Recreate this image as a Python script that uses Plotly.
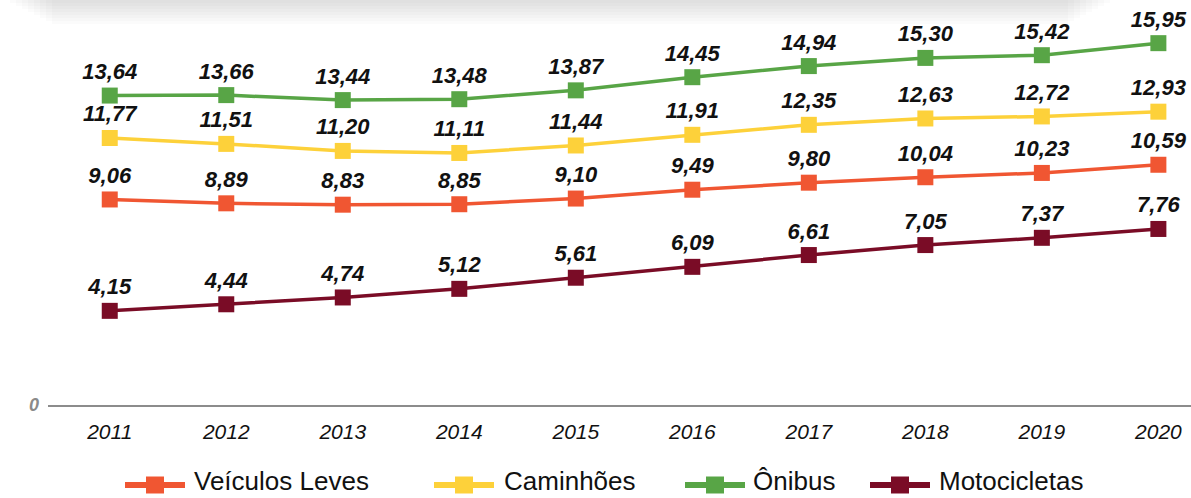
import plotly.graph_objects as go

years = [2011, 2012, 2013, 2014, 2015, 2016, 2017, 2018, 2019, 2020]
series_names = ["Veículos Leves", "Caminhões", "Ônibus", "Motocicletas"]
veiculos_leves = [9.06, 8.89, 8.83, 8.85, 9.10, 9.49, 9.80, 10.04, 10.23, 10.59]
caminhoes = [11.77, 11.51, 11.20, 11.11, 11.44, 11.91, 12.35, 12.63, 12.72, 12.93]
onibus = [13.64, 13.66, 13.44, 13.48, 13.87, 14.45, 14.94, 15.30, 15.42, 15.95]
motocicletas = [4.15, 4.44, 4.74, 5.12, 5.61, 6.09, 6.61, 7.05, 7.37, 7.76]
colors = ["#F05632", "#FDD13A", "#58A546", "#7A0C26"]

W, H = 1191, 498
ML, MR, MT, MB = 48, 0, 8, 93
PW, PH = W - ML - MR, H - MT - MB


def px_x(x):
    return (x - ML) / PW


def px_y(y):
    return (H - MB - y) / PH


def fmt(v):
    return f"{v:.2f}".replace(".", ",")


fig = go.Figure()
all_series = [veiculos_leves, caminhoes, onibus, motocicletas]
for name, vals, col in zip(series_names, all_series, colors):
    fig.add_trace(go.Scatter(
        x=years, y=vals, name=name, mode="lines+markers+text",
        line=dict(color=col, width=3.5),
        marker=dict(symbol="square", size=16, color=col),
        text=[fmt(v) for v in vals], textposition="top center",
        textfont=dict(family="Liberation Sans, Arial", size=22, color="#111111",
                      weight="bold", style="italic"),
        cliponaxis=False, showlegend=False,
    ))

shapes = []
# soft shadow band at the top
for i in range(8):
    h = 3 + i * 3
    shapes.append(dict(type="rect", xref="paper", yref="paper", layer="below",
                       x0=px_x(10 + i * 6), x1=px_x(1110 - i * 6),
                       y0=px_y(h), y1=px_y(0),
                       fillcolor="#9a9a9a", opacity=0.035, line=dict(width=0)))

# custom legend
legend_line_x = [125, 434, 685, 870]
legend_text_x = [193, 503, 752, 938]
legend_y = 485
legend_text_y = 481
annotations = []
for name, col, lx, tx in zip(series_names, colors, legend_line_x, legend_text_x):
    shapes.append(dict(type="line", xref="paper", yref="paper",
                       x0=px_x(lx), x1=px_x(lx + 60), y0=px_y(legend_y), y1=px_y(legend_y),
                       line=dict(color=col, width=6)))
    shapes.append(dict(type="rect", xref="paper", yref="paper",
                       x0=px_x(lx + 21), x1=px_x(lx + 39),
                       y0=px_y(legend_y + 8.5), y1=px_y(legend_y - 8.5),
                       fillcolor=col, line=dict(width=0)))
    annotations.append(dict(xref="paper", yref="paper", x=px_x(tx), y=px_y(legend_text_y),
                            xanchor="left", yanchor="middle", showarrow=False, text=name,
                            borderpad=0,
                            font=dict(family="Liberation Sans, Arial", size=26, color="#111111")))

fig.update_layout(
    width=W, height=H,
    margin=dict(l=ML, r=MR, t=MT, b=MB),
    paper_bgcolor="white", plot_bgcolor="white",
    shapes=shapes, annotations=annotations,
    xaxis=dict(range=[2010.47, 2020.28], tickvals=years, ticktext=[str(y) for y in years],
               showgrid=False, zeroline=False, showline=True, linecolor="#8c8c8c", linewidth=2,
               ticks="", ticklabelstandoff=7,
               tickfont=dict(family="Liberation Sans, Arial", size=21, color="#111111", style="italic")),
    yaxis=dict(range=[0, 17.5], tickvals=[0], ticktext=["0"], showgrid=False, zeroline=False,
               showline=False, ticks="", ticklabelstandoff=8,
               tickfont=dict(family="Liberation Sans, Arial", size=18, color="#8a8a8a",
                             weight="bold", style="italic")),
)

fig.write_html("out.html", config={"displayModeBar": False},
               post_script="document.body.style.margin='0';document.body.style.overflow='hidden';")
